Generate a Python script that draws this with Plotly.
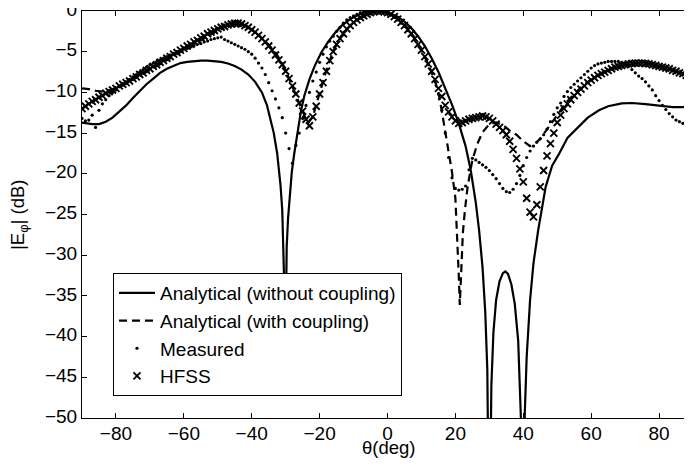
import plotly.graph_objects as go

# ---------------- data ----------------
theta_solid = [-90, -87, -85, -83, -81, -79, -77, -75, -73, -71, -69, -67, -65, -63, -61, -59, -57, -55,
               -53, -51, -49, -47, -45, -43, -41, -39, -37, -35.5, -34.5, -33.5, -32.5, -32, -31.5, -31,
               -30.7, -30.4, -30.2, -30.0, -29.7, -29.3, -28.9, -28.2, -27.5, -26.5, -25.5, -24.5, -23,
               -21.5, -19.5, -17.5, -15.5, -13.5, -11, -8.5, -6, -3, 0, 3, 5, 7, 9, 11, 13, 15, 17, 19,
               21, 23, 24.5, 26, 27, 28, 28.8, 29.4, 29.8, 30.0, 30.2, 30.6, 31.2, 32, 33, 34, 34.7,
               35.5, 36.5, 37.5, 38.5, 39.3, 39.8, 40.4, 41, 42, 43, 44.4, 46.6, 48.5, 50.6, 53, 56.4,
               59, 62.3, 65, 69, 72, 76, 80, 84, 87, 90]
db_solid = [-13.7, -13.9, -13.9, -13.6, -13.1, -12.4, -11.6, -10.7, -9.8, -9.0, -8.3, -7.6, -7.1, -6.7,
            -6.4, -6.25, -6.15, -6.1, -6.1, -6.15, -6.25, -6.45, -6.75, -7.2, -7.8, -8.7, -10.0, -11.6,
            -13.2, -15.0, -17.5, -19.2, -21.5, -24.5, -28, -34, -47, -35, -29, -25.5, -23.0, -19.8,
            -17.6, -14.8, -12.3, -10.4, -8.4, -6.8, -5.1, -3.8, -2.7, -1.8, -1.0, -0.45, -0.1, 0.0,
            -0.15, -0.7, -1.3, -2.1, -3.1, -4.3, -5.8, -7.5, -9.4, -11.5, -13.8, -16.6, -19.5, -23.5,
            -27, -31.5, -37, -44, -60, -70, -60, -46, -39.5, -35.5, -33.2, -32.2, -32.0, -32.3, -33.6,
            -36, -40.5, -50, -65, -50, -42.5, -35.5, -31, -26.9, -21.6, -19.0, -17.5, -15.6, -14.2,
            -13.1, -12.2, -11.7, -11.35, -11.3, -11.45, -11.6, -11.8, -11.8, -11.75]

theta_dashed = [-90, -88, -86, -84, -80, -76, -72, -68, -64, -60, -56, -52, -48, -45, -42, -39, -36, -33,
                -31, -29, -27, -25, -23.5, -22, -20, -18, -16, -13, -10, -6, -3, 0, 3, 6, 9, 12, 14, 15,
                16, 17, 18, 19, 20, 20.6, 21, 21.3, 21.7, 22.2, 22.8, 23.6, 25, 26.5, 28, 30, 32, 34,
                36, 38, 40, 42, 43.5, 45, 47.6, 50, 52.5, 55, 58, 61, 64, 67, 70, 73, 76, 80, 85, 90]
db_dashed = [-9.5, -9.6, -9.8, -9.9, -9.6, -8.7, -7.8, -6.8, -5.8, -4.8, -3.8, -2.8, -1.9, -1.6, -1.8,
             -2.6, -3.7, -5.1, -6.4, -8.3, -10.2, -12.3, -13.8, -13.0, -10.1, -7.3, -4.9, -2.7, -1.4,
             -0.4, 0.0, -0.2, -0.9, -2.1, -4.0, -6.5, -8.6, -10.0, -12.3, -14.7, -17.2, -19.8, -23.0,
             -28, -32.5, -36.1, -31.5, -27.3, -24.5, -21.6, -18.3, -16.3, -14.9, -13.9, -13.7, -14.0,
             -14.7, -15.2, -16.0, -16.6, -16.3, -15.7, -14.2, -12.7, -11.3, -10.2, -9.0, -8.1, -7.4,
             -7.0, -6.6, -6.4, -6.45, -6.8, -7.4, -8.1]

theta_pts = list(range(-90, 91))
db_measured = [-13.2, -13.5, -13.4, -12.8, -14.3, -12.2, -11.4, -10.9, -10.4, -10.0,
               -9.7, -9.3, -9.0, -8.7, -8.4, -8.1, -7.8, -7.5, -7.2, -6.9,
               -6.6, -6.4, -6.2, -6.0, -5.8, -5.6, -5.4, -5.2, -5.0, -4.9,
               -4.7, -4.6, -4.4, -4.3, -4.1, -4.0, -3.8, -3.7, -3.5, -3.4,
               -3.3, -3.2, -3.5, -3.7, -3.9, -4.1, -4.3, -4.5, -4.7, -5.0,
               -5.3, -5.8, -6.4, -7.0, -7.8, -8.8, -9.8, -10.8, -11.9, -13.1,
               -15.0, -16.9, -18.7, -16.5, -15.0, -13.2, -11.6, -10.0, -8.6, -7.5,
               -6.3, -5.3, -4.4, -3.7, -3.1, -2.5, -2.0, -1.5, -1.1, -0.8,
               -0.6, -0.4, -0.2, -0.1, 0.0, 0.1, 0.1, 0.1, 0.0, -0.1,
               -0.3, -0.5, -0.8, -1.1, -1.5, -1.9, -2.4, -2.9, -3.5, -4.2,
               -4.9, -5.7, -6.6, -7.6, -8.7, -10.2, -12.2, -15.0, -18.0, -20.5,
               -21.8, -22.0, -21.9, -21.5, -19.5, -18.1, -18.3, -18.6, -18.9, -19.2,
               -19.6, -20.1, -20.6, -21.2, -21.8, -22.2, -22.3, -21.9, -21.2, -20.2,
               -19.0, -18.0, -17.2, -16.6, -16.1, -15.7, -15.2, -14.5, -13.6, -12.7,
               -11.9, -11.3, -10.5, -9.9, -9.4, -9.0, -8.6, -8.2, -7.8, -7.4,
               -7.0, -6.7, -6.5, -6.4, -6.3, -6.2, -6.2, -6.2, -6.2, -6.3,
               -6.4, -6.8, -7.2, -7.6, -8.0, -8.3, -8.7, -9.2, -9.7, -10.4,
               -11.0, -11.6, -12.1, -12.6, -13.0, -13.4, -13.6, -13.8, -14.0, -14.2,
               -14.4]
db_hfss = [-12.0, -11.7, -11.4, -11.1, -10.9, -10.6, -10.4, -10.1, -9.9, -9.7,
           -9.5, -9.2, -9.0, -8.8, -8.6, -8.3, -8.1, -7.8, -7.6, -7.3,
           -7.1, -6.8, -6.6, -6.3, -6.1, -5.8, -5.6, -5.3, -5.1, -4.8,
           -4.6, -4.3, -4.1, -3.8, -3.6, -3.3, -3.1, -2.8, -2.6, -2.4,
           -2.2, -2.0, -1.9, -1.7, -1.6, -1.5, -1.5, -1.6, -1.8, -2.0,
           -2.3, -2.6, -3.0, -3.4, -3.8, -4.3, -4.8, -5.4, -6.0, -6.6,
           -7.4, -8.3, -9.2, -10.2, -11.3, -12.3, -13.3, -14.1, -13.0, -11.7,
           -10.2, -8.8, -7.4, -6.1, -5.0, -4.1, -3.4, -2.8, -2.2, -1.8,
           -1.4, -1.1, -0.8, -0.6, -0.4, -0.2, -0.1, 0.0, 0.0, -0.1,
           -0.2, -0.4, -0.7, -1.0, -1.4, -1.8, -2.3, -2.8, -3.4, -4.1,
           -4.8, -5.6, -6.5, -7.4, -8.4, -9.5, -10.5, -11.6, -12.4, -13.0,
           -13.5, -13.8, -13.7, -13.5, -13.3, -13.2, -13.1, -13.0, -12.9, -13.0,
           -13.2, -13.5, -13.9, -14.3, -14.7, -15.2, -16.0, -17.0, -18.1, -19.4,
           -21.0, -23.0, -24.7, -25.3, -23.8, -21.6, -19.6, -17.8, -16.3, -15.0,
           -13.7, -12.8, -12.0, -11.4, -10.9, -10.4, -10.0, -9.6, -9.2, -8.8,
           -8.5, -8.2, -7.9, -7.7, -7.5, -7.3, -7.1, -6.9, -6.8, -6.7,
           -6.6, -6.5, -6.45, -6.4, -6.4, -6.4, -6.45, -6.5, -6.6, -6.7,
           -6.8, -6.9, -7.0, -7.1, -7.3, -7.4, -7.6, -7.7, -7.9, -8.0,
           -8.1]

x_ticks = [-80, -60, -40, -20, 0, 20, 40, 60, 80]
y_ticks = [0, -5, -10, -15, -20, -25, -30, -35, -40, -45, -50]
x_title = "θ(deg)"
y_title = "|E<sub>φ</sub>| (dB)"

FONT = "Liberation Sans, Arial, Helvetica, sans-serif"

# page is shown with an 8px body offset; plot area in figure pixels
L, T, W, H = 74, 3, 611, 407
FIG_W, FIG_H = 692, 468

fig = go.Figure()
fig.add_trace(go.Scatter(x=theta_solid, y=db_solid, mode="lines",
                         name="Analytical (without coupling)",
                         line=dict(color="black", width=2.2)))
fig.add_trace(go.Scatter(x=theta_dashed, y=db_dashed, mode="lines",
                         name="Analytical (with coupling)",
                         line=dict(color="black", width=2.2, dash="8px,5px")))
fig.add_trace(go.Scatter(x=theta_pts, y=db_measured, mode="markers", name="Measured",
                         marker=dict(symbol="circle", size=3.2, color="black")))
fig.add_trace(go.Scatter(x=theta_pts, y=db_hfss, mode="markers", name="HFSS",
                         marker=dict(symbol="x-thin", size=7,
                                     line=dict(color="black", width=1.9), color="black")))

axis_common = dict(showgrid=False, zeroline=False, showline=True, linecolor="black",
                   linewidth=1, mirror="ticks", ticks="inside", ticklen=5,
                   tickcolor="black", tickwidth=1, automargin=False,
                   ticklabeloverflow="allow",
                   tickfont=dict(family=FONT, size=19, color="black"))

fig.update_xaxes(range=[-90, 90], tickvals=x_ticks, ticklabelstandoff=-2, **axis_common)
fig.update_yaxes(range=[-50, 0], tickvals=y_ticks, ticklabelshift=-2, **axis_common)

fig.add_annotation(text=x_title, xref="paper", yref="paper", x=(380 - L) / W,
                   y=-(439 - (T + H)) / H, xanchor="center", yanchor="middle",
                   showarrow=False, font=dict(family=FONT, size=18.5, color="black"))
fig.add_annotation(text=y_title, xref="paper", yref="paper", x=-(L - 11) / W,
                   y=((T + H) - 207) / H, xanchor="center", yanchor="middle", textangle=-90,
                   showarrow=False, font=dict(family=FONT, size=18.5, color="black"))

fig.update_layout(
    width=FIG_W, height=FIG_H,
    margin=dict(l=L, r=FIG_W - L - W, t=T, b=FIG_H - T - H, autoexpand=False),
    paper_bgcolor="white", plot_bgcolor="white",
    font=dict(family=FONT, size=19, color="black"),
    showlegend=True,
    legend=dict(x=(105 - L) / W, y=1 - (265 - T) / H, xanchor="left", yanchor="top",
                bgcolor="white", bordercolor="black", borderwidth=1,
                font=dict(family=FONT, size=19, color="black"),
                tracegroupgap=0, itemwidth=36),
)

fig.write_html("out.html")
